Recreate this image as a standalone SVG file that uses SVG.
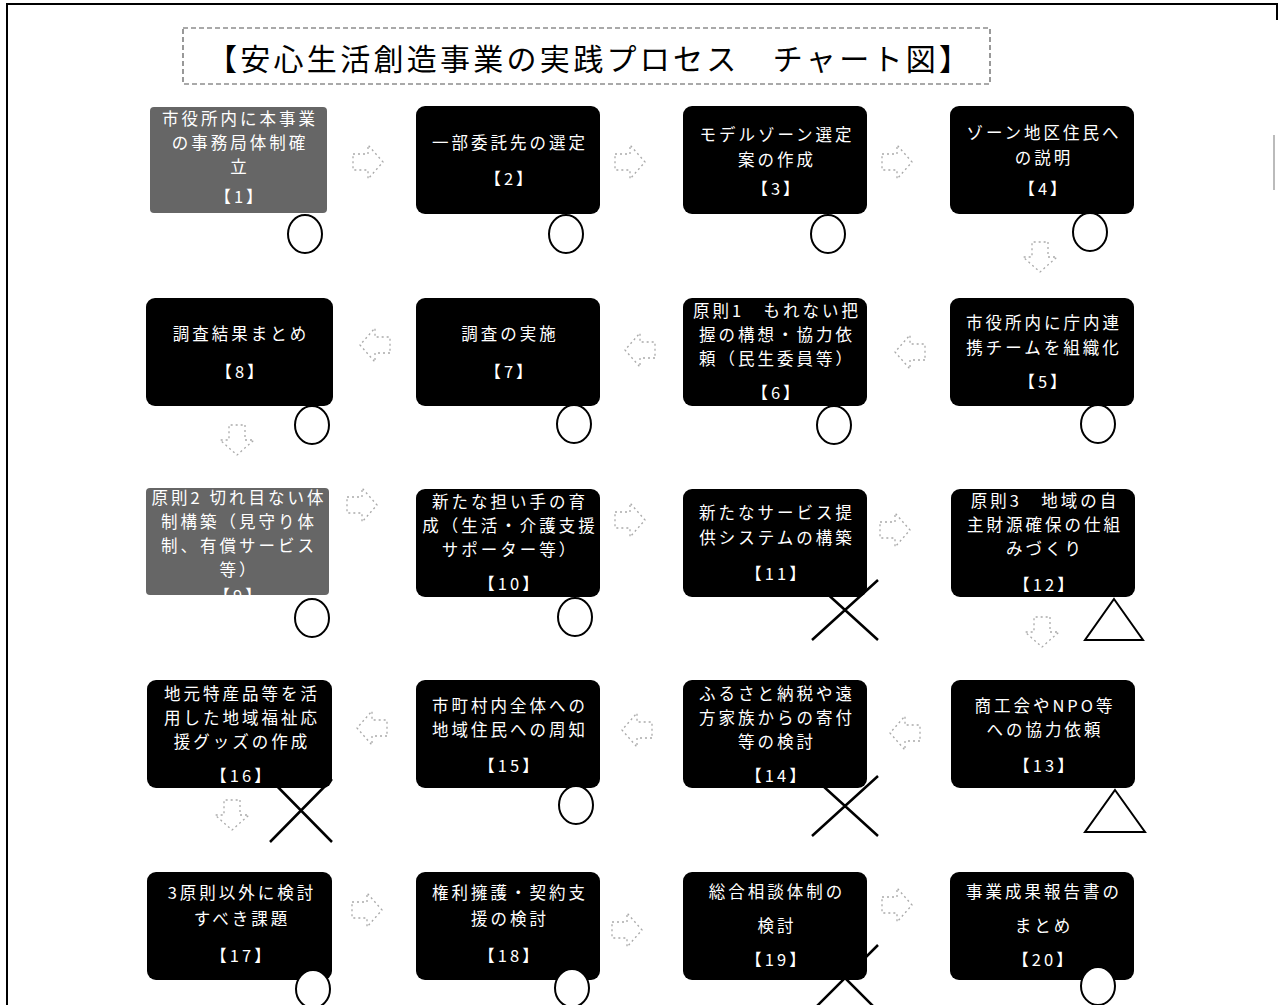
<svg xmlns="http://www.w3.org/2000/svg" width="1279" height="1005" viewBox="0 0 1279 1005">
<defs>
<style>
.box{fill:#000;}
.gbox{fill:#666;}
.t{fill:#fff;font-family:"Noto Sans CJK JP","Noto Sans",sans-serif;font-size:16.5px;letter-spacing:3px;text-anchor:middle;dominant-baseline:central;}
.title{fill:#000;font-family:"Noto Sans CJK JP","Noto Sans",sans-serif;font-size:30px;text-anchor:middle;dominant-baseline:central;}
.mk{fill:#fff;stroke:#000;stroke-width:2;}
.xm{stroke:#000;stroke-width:2.5;fill:none;}
.arr{fill:none;stroke:#aaa;stroke-width:1.3;stroke-dasharray:2 3;}
</style>
<path id="arrR" d="M-15,-8 H0 V-17 L15,0 L0,17 V8 H-15 Z"/>
<clipPath id="c9"><rect x="146" y="488" width="183" height="107"/></clipPath>
</defs>
<rect width="1279" height="1005" fill="#fff"/>
<path d="M7,1005 V4 H1277 V20" fill="none" stroke="#000" stroke-width="2"/>
<line x1="1274" y1="135" x2="1274" y2="190" stroke="#bbb" stroke-width="2"/>

<g id="title">
<rect x="183" y="28" width="807" height="56" fill="none" stroke="#555" stroke-width="1.2" stroke-dasharray="5 3"/>
<text class="title" x="588" y="57" textLength="762" lengthAdjust="spacing">【安心生活創造事業の実践プロセス　チャート図】</text>
</g>

<g id="connectors">
<use href="#arrR" class="arr" transform="translate(368,162)"/>
<use href="#arrR" class="arr" transform="translate(630,162)"/>
<use href="#arrR" class="arr" transform="translate(897,162)"/>
<use href="#arrR" class="arr" transform="translate(1040,257) rotate(90)"/>
<use href="#arrR" class="arr" transform="translate(910,352) rotate(180)"/>
<use href="#arrR" class="arr" transform="translate(640,350) rotate(180)"/>
<use href="#arrR" class="arr" transform="translate(375,345) rotate(180)"/>
<use href="#arrR" class="arr" transform="translate(237,440) rotate(90)"/>
<use href="#arrR" class="arr" transform="translate(362,505)"/>
<use href="#arrR" class="arr" transform="translate(630,520)"/>
<use href="#arrR" class="arr" transform="translate(895,530)"/>
<use href="#arrR" class="arr" transform="translate(1042,632) rotate(90)"/>
<use href="#arrR" class="arr" transform="translate(905,733) rotate(180)"/>
<use href="#arrR" class="arr" transform="translate(637,730) rotate(180)"/>
<use href="#arrR" class="arr" transform="translate(372,728) rotate(180)"/>
<use href="#arrR" class="arr" transform="translate(232,815) rotate(90)"/>
<use href="#arrR" class="arr" transform="translate(367,910)"/>
<use href="#arrR" class="arr" transform="translate(627,930)"/>
<use href="#arrR" class="arr" transform="translate(897,905)"/>
</g>

<g id="n1">
<rect class="gbox" x="150" y="107" width="177" height="106" rx="4"/>
<text class="t" x="240" y="118">市役所内に本事業</text>
<text class="t" x="240" y="142">の事務局体制確</text>
<text class="t" x="240" y="166">立</text>
<text class="t" x="240" y="196">【1】</text>
<ellipse class="mk" cx="305" cy="234" rx="17" ry="19"/>
</g>
<g id="n2">
<rect class="box" x="416" y="106" width="184" height="108" rx="9"/>
<text class="t" x="510" y="142">一部委託先の選定</text>
<text class="t" x="510" y="178">【2】</text>
<ellipse class="mk" cx="566" cy="234" rx="17" ry="19"/>
</g>
<g id="n3">
<rect class="box" x="683" y="106" width="184" height="108" rx="9"/>
<text class="t" x="777" y="134">モデルゾーン選定</text>
<text class="t" x="777" y="159">案の作成</text>
<text class="t" x="777" y="188">【3】</text>
<ellipse class="mk" cx="828" cy="234" rx="17" ry="19"/>
</g>
<g id="n4">
<rect class="box" x="950" y="106" width="184" height="108" rx="9"/>
<text class="t" x="1044" y="132">ゾーン地区住民へ</text>
<text class="t" x="1044" y="157">の説明</text>
<text class="t" x="1044" y="188">【4】</text>
<ellipse class="mk" cx="1090" cy="232" rx="17" ry="19"/>
</g>

<g id="n5">
<rect class="box" x="950" y="298" width="184" height="108" rx="9"/>
<text class="t" x="1044" y="322">市役所内に庁内連</text>
<text class="t" x="1044" y="347">携チームを組織化</text>
<text class="t" x="1044" y="381">【5】</text>
<ellipse class="mk" cx="1098" cy="424" rx="17" ry="19"/>
</g>
<g id="n6">
<rect class="box" x="683" y="298" width="184" height="108" rx="9"/>
<text class="t" x="777" y="310">原則1　もれない把</text>
<text class="t" x="777" y="334">握の構想・協力依</text>
<text class="t" x="777" y="358">頼（民生委員等）</text>
<text class="t" x="777" y="392">【6】</text>
<ellipse class="mk" cx="834" cy="425" rx="17" ry="19"/>
</g>
<g id="n7">
<rect class="box" x="416" y="298" width="184" height="108" rx="9"/>
<text class="t" x="510" y="333">調査の実施</text>
<text class="t" x="510" y="371">【7】</text>
<ellipse class="mk" cx="574" cy="424" rx="17" ry="19"/>
</g>
<g id="n8">
<rect class="box" x="146" y="298" width="187" height="108" rx="9"/>
<text class="t" x="241" y="333">調査結果まとめ</text>
<text class="t" x="241" y="371">【8】</text>
<ellipse class="mk" cx="312" cy="425" rx="17" ry="19"/>
</g>

<g id="n9">
<rect class="gbox" x="146" y="488" width="183" height="107" rx="4"/>
<g clip-path="url(#c9)">
<text class="t" x="239" y="497">原則2 切れ目ない体</text>
<text class="t" x="239" y="521">制構築（見守り体</text>
<text class="t" x="239" y="545">制、有償サービス</text>
<text class="t" x="239" y="569">等）</text>
<text class="t" x="239" y="595">【9】</text>
</g>
<ellipse class="mk" cx="312" cy="618" rx="17" ry="19"/>
</g>
<g id="n10">
<rect class="box" x="416" y="489" width="184" height="108" rx="9"/>
<text class="t" x="510" y="501">新たな担い手の育</text>
<text class="t" x="510" y="525">成（生活・介護支援</text>
<text class="t" x="510" y="549">サポーター等）</text>
<text class="t" x="510" y="583">【10】</text>
<ellipse class="mk" cx="575" cy="617" rx="17" ry="19"/>
</g>
<g id="n11">
<rect class="box" x="683" y="489" width="184" height="108" rx="9"/>
<text class="t" x="777" y="512">新たなサービス提</text>
<text class="t" x="777" y="537">供システムの構築</text>
<text class="t" x="777" y="573">【11】</text>
<path class="xm" d="M812,580 L878,640 M878,580 L812,640"/>
</g>
<g id="n12">
<rect class="box" x="951" y="489" width="184" height="108" rx="9"/>
<text class="t" x="1045" y="500">原則3　地域の自</text>
<text class="t" x="1045" y="524">主財源確保の仕組</text>
<text class="t" x="1045" y="548">みづくり</text>
<text class="t" x="1045" y="584">【12】</text>
<path class="mk" d="M1114,599 L1143,640 L1085,640 Z"/>
</g>

<g id="n13">
<rect class="box" x="951" y="680" width="184" height="108" rx="9"/>
<text class="t" x="1045" y="705">商工会やNPO等</text>
<text class="t" x="1045" y="729">への協力依頼</text>
<text class="t" x="1045" y="765">【13】</text>
<path class="mk" d="M1115,790 L1145,832 L1085,832 Z"/>
</g>
<g id="n14">
<rect class="box" x="683" y="680" width="184" height="108" rx="9"/>
<text class="t" x="777" y="693">ふるさと納税や遠</text>
<text class="t" x="777" y="717">方家族からの寄付</text>
<text class="t" x="777" y="741">等の検討</text>
<text class="t" x="777" y="775">【14】</text>
<path class="xm" d="M812,776 L878,836 M878,776 L812,836"/>
</g>
<g id="n15">
<rect class="box" x="416" y="680" width="184" height="108" rx="9"/>
<text class="t" x="510" y="705">市町村内全体への</text>
<text class="t" x="510" y="729">地域住民への周知</text>
<text class="t" x="510" y="765">【15】</text>
<ellipse class="mk" cx="576" cy="805" rx="17" ry="19"/>
</g>
<g id="n16">
<rect class="box" x="147" y="680" width="185" height="108" rx="9"/>
<text class="t" x="242" y="693">地元特産品等を活</text>
<text class="t" x="242" y="717">用した地域福祉応</text>
<text class="t" x="242" y="741">援グッズの作成</text>
<text class="t" x="242" y="775">【16】</text>
<path class="xm" d="M270,779 L332,842 M332,779 L270,842"/>
</g>

<g id="n17">
<rect class="box" x="147" y="872" width="185" height="108" rx="9"/>
<text class="t" x="242" y="892">3原則以外に検討</text>
<text class="t" x="242" y="918">すべき課題</text>
<text class="t" x="242" y="955">【17】</text>
<ellipse class="mk" cx="313" cy="989" rx="17" ry="19"/>
</g>
<g id="n18">
<rect class="box" x="416" y="872" width="184" height="108" rx="9"/>
<text class="t" x="510" y="892">権利擁護・契約支</text>
<text class="t" x="510" y="918">援の検討</text>
<text class="t" x="510" y="955">【18】</text>
<ellipse class="mk" cx="572" cy="988" rx="17" ry="19"/>
</g>
<g id="n19">
<rect class="box" x="683" y="872" width="184" height="108" rx="9"/>
<text class="t" x="777" y="891">総合相談体制の</text>
<text class="t" x="777" y="925">検討</text>
<text class="t" x="777" y="959">【19】</text>
<path class="xm" d="M812,1011 L878,945 M812,945 L878,1011"/>
</g>
<g id="n20">
<rect class="box" x="950" y="872" width="184" height="108" rx="9"/>
<text class="t" x="1044" y="891">事業成果報告書の</text>
<text class="t" x="1044" y="925">まとめ</text>
<text class="t" x="1044" y="959">【20】</text>
<ellipse class="mk" cx="1098" cy="986" rx="17" ry="19"/>
</g>
</svg>
